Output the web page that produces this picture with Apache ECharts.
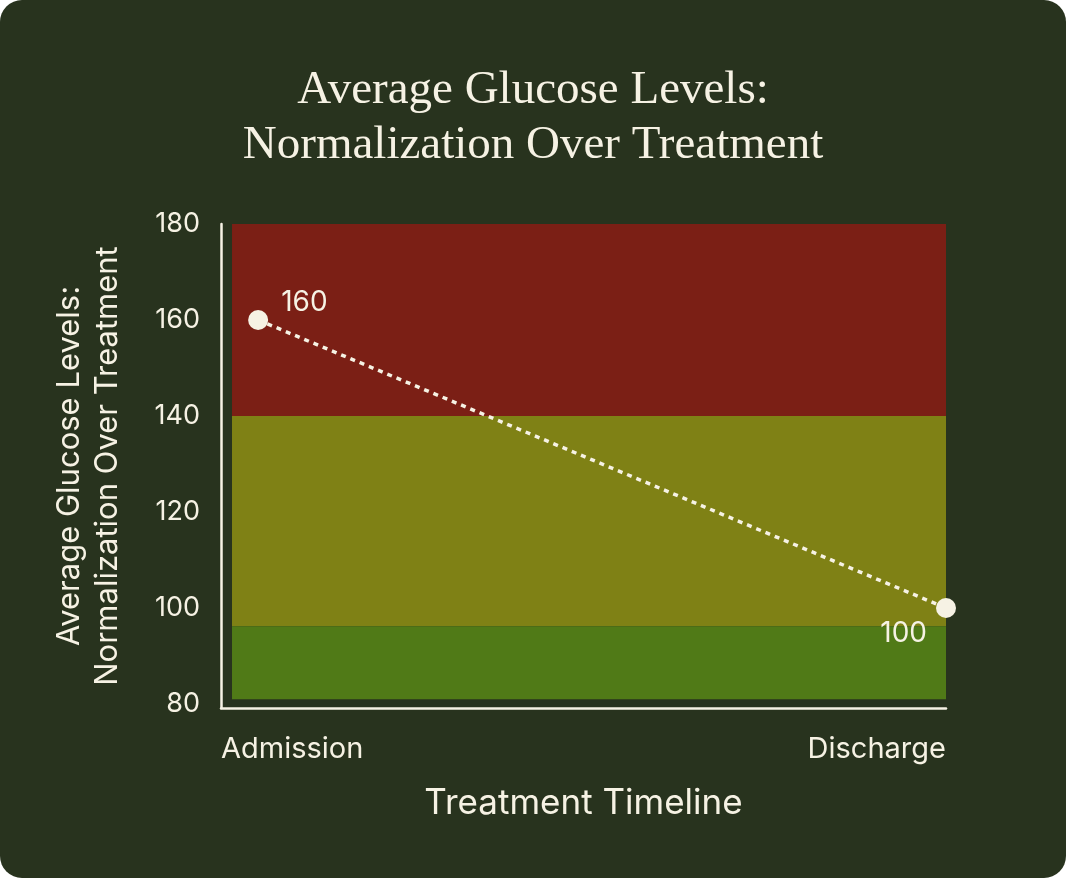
<!DOCTYPE html>
<html>
<head>
<meta charset="utf-8">
<script src="https://cdn.jsdelivr.net/npm/echarts@6/dist/echarts.min.js"></script>
<style>
	html, body { margin: 0; padding: 0; background: #ffffff; }
	#box { width: 1066px; height: 878px; background: #28331e; border-radius: 22px; overflow: hidden; }
	#chart { width: 1066px; height: 878px; }
</style>
</head>
<body>
<div id="box"><div id="chart"></div></div>
<script>
// 数据
var stages = ['Admission', 'Discharge'];
var stageX = [0, 1];
var glucose = [160, 100];
var yTicks = [80, 100, 120, 140, 160, 180];
// 背景色带（上下限）
var bandLow = [140, 96.2, 81];
var bandHigh = [180, 140, 96.2];
var bandColors = ['#7b1f15', '#7f8115', '#507a17'];
var bandStartX = -0.038;

var cream = '#f6f2e4';
var font = 'Inter, "Noto Sans", sans-serif';

var chart = echarts.init(document.getElementById('chart'));

var points = [];
for (var i in glucose) {
	points.push({
		value: [stageX[i], glucose[i]],
		label: i == 0 ? { position: 'right', offset: [8, -17] } : { position: 'left', offset: [-4, 26] }
	});
}

var bands = [];
for (var i in bandLow) {
	bands.push([
		{ xAxis: bandStartX, yAxis: bandHigh[i], itemStyle: { color: bandColors[i] } },
		{ xAxis: 1, yAxis: bandLow[i] }
	]);
}

option = {
	backgroundColor: 'transparent',
	title: {
		text: 'Average Glucose Levels:\nNormalization Over Treatment',
		left: 'center',
		top: 58,
		textStyle: {
			color: cream,
			fontFamily: '"Liberation Serif", "DejaVu Serif", serif',
			fontWeight: 'normal',
			fontSize: 47,
			lineHeight: 55
		}
	},
	grid: { left: 221, right: 120, top: 224, bottom: 170 },
	xAxis: {
		type: 'value',
		min: -0.054,
		max: 1,
		name: 'Treatment Timeline',
		nameLocation: 'middle',
		nameGap: 78,
		nameTextStyle: { color: cream, fontFamily: font, fontSize: 35 },
		axisLine: { show: true, onZero: false, lineStyle: { color: cream, width: 2.5 } },
		axisTick: { show: false },
		splitLine: { show: false },
		axisLabel: {
			customValues: [-0.054, 1],
			formatter: function(v) { return v < 0.5 ? stages[0] : stages[1]; },
			alignMinLabel: 'left',
			alignMaxLabel: 'right',
			color: cream,
			fontFamily: font,
			fontSize: 29,
			margin: 27
		}
	},
	yAxis: {
		type: 'value',
		min: 79.17,
		max: 180,
		name: 'Average Glucose Levels:\nNormalization Over Treatment',
		nameLocation: 'middle',
		nameRotate: 90,
		nameGap: 94,
		nameTextStyle: { color: cream, fontFamily: font, fontSize: 31, lineHeight: 38 },
		axisLine: { show: true, onZero: false, lineStyle: { color: cream, width: 2.5 } },
		axisTick: { show: false },
		splitLine: { show: false },
		axisLabel: {
			customValues: yTicks,
			color: cream,
			fontFamily: font,
			fontSize: 27,
			margin: 21
		}
	},
	series: [{
		type: 'line',
		data: points,
		symbol: 'circle',
		symbolSize: 20,
		itemStyle: { color: cream },
		lineStyle: { color: cream, width: 3.5, type: [5, 5] },
		label: {
			show: true,
			color: cream,
			fontFamily: font,
			fontSize: 28,
			formatter: function(p) { return p.value[1]; }
		},
		markArea: { silent: true, data: bands },
		z: 5
	}]
};
chart.setOption(option);
</script>
</body>
</html>
